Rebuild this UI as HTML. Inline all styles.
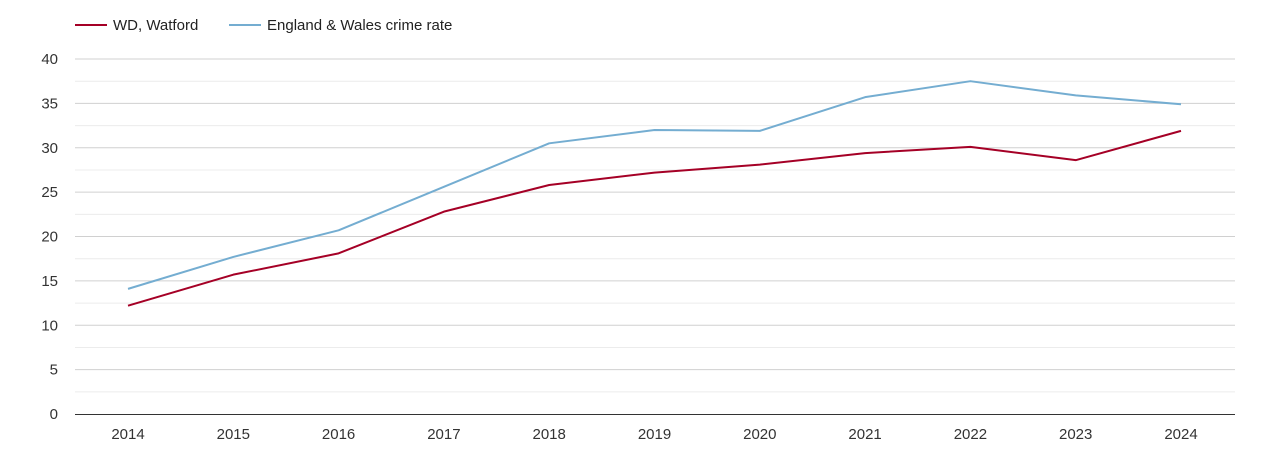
<!DOCTYPE html>
<html><head><meta charset="utf-8"><style>
body{margin:0;background:#fff;font-family:"Liberation Sans",sans-serif}
</style></head><body>
<svg width="1270" height="450" id="c" style="font-family:'Liberation Sans',sans-serif">
<g>
<g><line x1="75" y1="25" x2="107" y2="25" stroke="#a50026" stroke-width="2"/><text x="113" y="30" font-size="15" fill="#222">WD, Watford</text></g>
<g><line x1="229" y1="25" x2="261" y2="25" stroke="#74add1" stroke-width="2"/><text x="267" y="30" font-size="15" fill="#222">England &amp; Wales crime rate</text></g>
</g>
<g id="grid"></g>
<g id="axes"></g>
<g id="series"></g>
</svg>
<script>
const years=["2014","2015","2016","2017","2018","2019","2020","2021","2022","2023","2024"];
const watford=[12.2,15.7,18.1,22.8,25.8,27.2,28.1,29.4,30.1,28.6,31.9];
const englandWales=[14.1,17.7,20.7,25.6,30.5,32.0,31.9,35.7,37.5,35.9,34.9];
const yTicks=[0,5,10,15,20,25,30,35,40];
const NS="http://www.w3.org/2000/svg";
const L=75,R=1235,T=59,B=414,yMax=40;
const x=i=>128+i*(1181-128)/(years.length-1);
const y=v=>B-(v/yMax)*(B-T);
function mk(tag,attrs,parent){const e=document.createElementNS(NS,tag);for(const k in attrs)e.setAttribute(k,attrs[k]);parent.appendChild(e);return e;}
const grid=document.getElementById('grid'),axes=document.getElementById('axes'),series=document.getElementById('series');
for(let v=2.5;v<yMax;v+=5){const g=mk('line',{x1:L,x2:R,y1:y(v),y2:y(v),stroke:'#ececec','stroke-width':1},grid);

}
yTicks.forEach(v=>{
 if(v>0){const g=mk('line',{x1:L,x2:R,y1:y(v),y2:y(v),stroke:'#d0d0d0','stroke-width':1},grid);
 
 }
 const t=mk('text',{x:58,y:y(v)+5,'text-anchor':'end','font-size':15,fill:'#333'},axes);t.textContent=v;
 
 
});
const ax=mk('line',{x1:L,x2:R,y1:B+0.5,y2:B+0.5,stroke:'#333','stroke-width':1},axes);


years.forEach((yr,i)=>{const t=mk('text',{x:x(i),y:439,'text-anchor':'middle','font-size':15,fill:'#333'},axes);t.textContent=yr;

});
function line(vals,color,name){const p=mk('polyline',{points:vals.map((v,i)=>x(i)+','+y(v)).join(' '),fill:'none',stroke:color,'stroke-width':2,'stroke-linejoin':'round'},series);

}
line(englandWales,'#74add1','england-wales-line');
line(watford,'#a50026','watford-line');
</script>
</body></html>
